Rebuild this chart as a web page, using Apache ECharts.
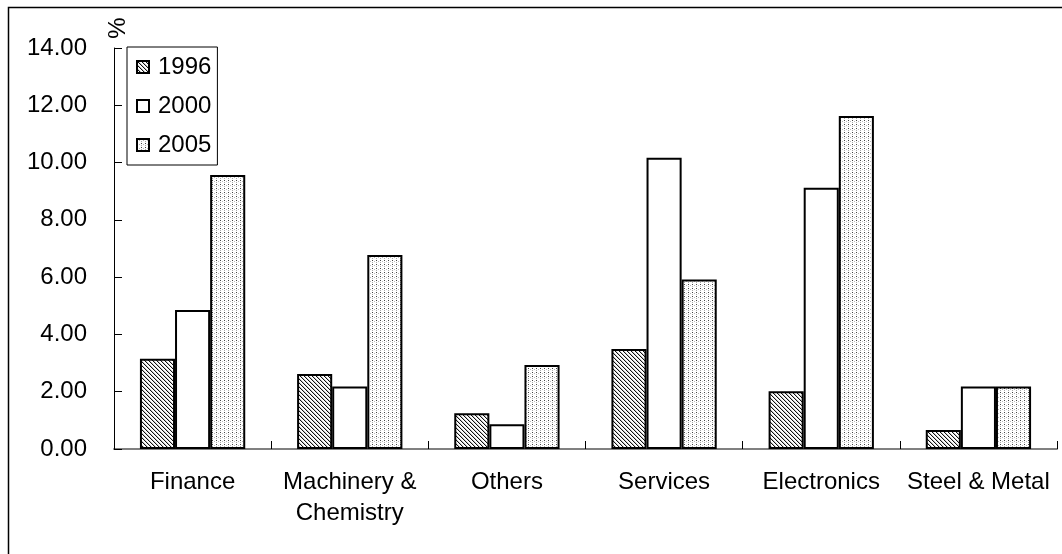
<!DOCTYPE html>
<html>
<head>
<meta charset="utf-8">
<script src="https://cdn.jsdelivr.net/npm/echarts@6/dist/echarts.min.js"></script>
<style>
html,body{margin:0;padding:0;background:#fff;}
#chart{width:1062px;height:554px;}
</style>
</head>
<body>
<div id="chart"></div>
<script>
const categories = ['Finance', 'Machinery &\nChemistry', 'Others', 'Services', 'Electronics', 'Steel & Metal'];
const seriesNames = ['1996', '2000', '2005'];
const values1996 = [3.15, 2.62, 1.25, 3.49, 2.02, 0.66];
const values2000 = [4.85, 2.18, 0.86, 10.17, 9.12, 2.18];
const values2005 = [9.57, 6.77, 2.93, 5.92, 11.63, 2.18];
const yTicks = [0, 2, 4, 6, 8, 10, 12, 14];

function makePattern(kind) {
  const c = document.createElement('canvas');
  c.width = 4; c.height = 4;
  const ctx = c.getContext('2d');
  ctx.fillStyle = '#fff';
  ctx.fillRect(0, 0, 4, 4);
  for (let x = 0; x < 4; x++) {
    for (let y = 0; y < 4; y++) {
      if (kind === 'hatch') {
        const m = ((x - y) % 4 + 4) % 4;
        if (m === 0) { ctx.fillStyle = '#111'; ctx.fillRect(x, y, 1, 1); }
        else if (m === 1) { ctx.fillStyle = '#c8c8c8'; ctx.fillRect(x, y, 1, 1); }
      } else if (kind === 'dots') {
        if (x === 0 && y === 0) { ctx.fillStyle = '#444'; ctx.fillRect(x, y, 1, 1); }
        if (x === 0 && y === 2) { ctx.fillStyle = '#aaa'; ctx.fillRect(x, y, 1, 1); }
        if (x === 2 && y === 1) { ctx.fillStyle = '#bbb'; ctx.fillRect(x, y, 1, 1); }
      }
    }
  }
  return { image: c, repeat: 'repeat' };
}

const fills = [makePattern('hatch'), '#ffffff', makePattern('dots')];
const allValues = [values1996, values2000, values2005];
const font = '"Liberation Sans", Arial, sans-serif';

const chart = echarts.init(document.getElementById('chart'), null, { renderer: 'canvas' });
chart.setOption({
  animation: false,
  backgroundColor: '#fff',
  grid: { left: 114, right: 5, top: 48, bottom: 105, containLabel: false },
  legend: {
    orient: 'vertical',
    left: 127, top: 47,
    data: seriesNames,
    icon: 'rect',
    itemWidth: 12, itemHeight: 12,
    itemGap: 15,
    padding: [8, 6, 8, 9],
    borderColor: '#000', borderWidth: 1,
    backgroundColor: '#fff',
    textStyle: { fontSize: 24, color: '#000', fontFamily: font, padding: [0, 0, 0, 4] }
  },
  xAxis: {
    type: 'category',
    data: categories,
    boundaryGap: true,
    axisLine: { lineStyle: { color: '#808080', width: 2 } },
    axisTick: { show: true, inside: true, length: 8, lineStyle: { color: '#000', width: 1 } },
    axisLabel: { fontSize: 24, color: '#000', fontFamily: font, margin: 18, lineHeight: 31, interval: 0 }
  },
  yAxis: {
    type: 'value',
    min: 0, max: 14, interval: 2,
    axisLine: { show: true, lineStyle: { color: '#000', width: 1 } },
    axisTick: { show: true, inside: true, length: 8, lineStyle: { color: '#000' } },
    splitLine: { show: false },
    axisLabel: { fontSize: 24, color: '#000', fontFamily: font, margin: 27,
      formatter: v => yTicks.includes(v) ? v.toFixed(2) : '' }
  },
  series: seriesNames.map((n, i) => ({
    name: n,
    type: 'bar',
    data: allValues[i],
    barGap: '0%',
    barCategoryGap: '33%',
    itemStyle: { color: fills[i], borderColor: '#000', borderWidth: 2 }
  })),
  graphic: [
    { type: 'rect', shape: { x: 8.5, y: 7.5, width: 1100, height: 600 }, style: { fill: null, stroke: '#000', lineWidth: 1.5 }, silent: true, z: -1 },
    { type: 'text', x: 118, y: 28, rotation: Math.PI / 2, style: { text: '%', fontSize: 24, fontFamily: 'Liberation Sans', fill: '#000', align: 'center', verticalAlign: 'middle' } }
  ]
});
</script>
</body>
</html>
